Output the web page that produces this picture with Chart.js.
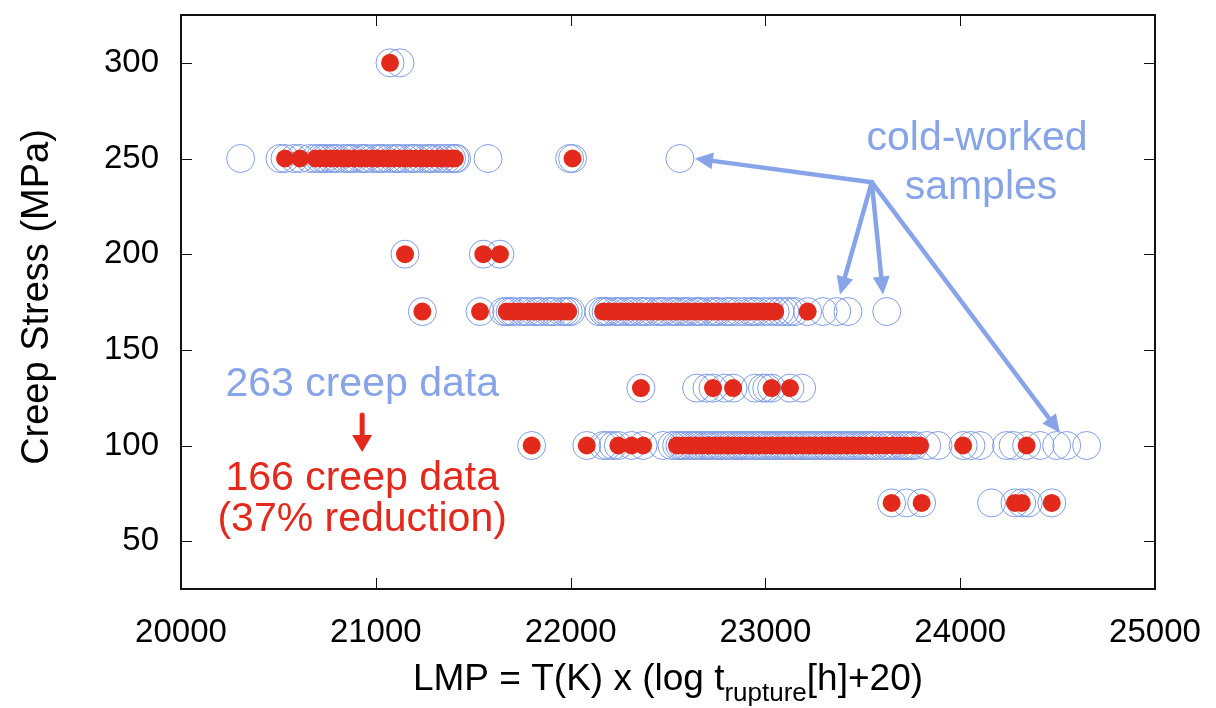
<!DOCTYPE html>
<html>
<head>
<meta charset="utf-8">
<script src="https://cdn.jsdelivr.net/npm/chart.js@4.4.1/dist/chart.umd.min.js"></script>
<style>
  html, body { margin: 0; padding: 0; background: #fff; }
  #c { display: block; }
</style>
</head>
<body>
<canvas id="c" width="1216" height="708"></canvas>
<script>
// stress levels (MPa) and LMP values
var stressLevels = [300, 250, 200, 170, 130, 100, 70];
var yTicks = [50, 100, 150, 200, 250, 300];

// all 263 data (open blue rings)
var blue300 = [21073, 21124];
var blue250 = [20306, 20508, 20534, 20580, 20611, 20660, 20690, 20712, 20731, 20745, 20770, 20788, 20801, 20836,
    20858, 20872, 20889, 20921, 20937, 20950, 20984, 21010, 21025, 21037, 21066, 21095, 21108, 21121, 21150,
    21178, 21192, 21204, 21233, 21262, 21277, 21290, 21318, 21341, 21367, 21389, 21406, 21415, 21576, 21995,
    22010, 22561];
var blue200 = [21150, 21552, 21637];
var blue170 = [21239, 21535, 21655, 21672, 21690, 21705, 21741, 21760, 21780, 21812, 21830, 21846, 21880, 21898,
    21915, 21951, 21970, 21988, 22002, 22145, 22167, 22182, 22196, 22228, 22245, 22262, 22290, 22308, 22323,
    22355, 22372, 22391, 22420, 22448, 22465, 22480, 22514, 22530, 22545, 22574, 22590, 22606, 22637, 22652,
    22668, 22700, 22729, 22745, 22760, 22795, 22812, 22830, 22862, 22896, 22925, 22940, 22958, 22990, 23022,
    23050, 23075, 23100, 23125, 23152, 23217, 23296, 23366, 23424, 23623];
var blue130 = [22361, 22647, 22700, 22731, 22790, 22834, 22947, 22985, 23007, 23032, 23126, 23186];
var blue100 = [21800, 22083, 22167, 22190, 22218, 22245, 22313, 22372, 22474, 22520, 22544, 22561, 22575, 22590,
    22610, 22629, 22643, 22658, 22676, 22694, 22708, 22722, 22740, 22757, 22772, 22791, 22806, 22820, 22839,
    22856, 22870, 22887, 22902, 22917, 22935, 22952, 22968, 22983, 23000, 23017, 23031, 23046, 23063, 23080,
    23095, 23110, 23128, 23145, 23160, 23175, 23192, 23209, 23225, 23240, 23257, 23274, 23290, 23305, 23322,
    23339, 23355, 23370, 23388, 23405, 23420, 23435, 23452, 23469, 23485, 23500, 23517, 23532, 23548, 23566,
    23600, 23621, 23640, 23659, 23680, 23701, 23715, 23730, 23747, 23765, 23828, 23886, 24015, 24055, 24102,
    24238, 24272, 24341, 24410, 24495, 24547, 24649];
var blue70 = [23648, 23725, 23802, 24161, 24281, 24316, 24350, 24470];

// 166 retained data (filled red)
var red300 = [21073];
var red250 = [20534, 20611, 20690, 20712, 20745, 20770, 20801, 20836, 20858, 20889, 20921, 20950, 20984, 21010,
    21037, 21066, 21095, 21121, 21150, 21178, 21204, 21233, 21262, 21290, 21318, 21341, 21367, 21389, 21406,
    22010];
var red200 = [21150, 21552, 21637];
var red170 = [21239, 21535, 21672, 21705, 21741, 21780, 21812, 21846, 21880, 21915, 21951, 21988, 22167, 22196,
    22228, 22262, 22290, 22323, 22355, 22391, 22420, 22448, 22480, 22514, 22545, 22574, 22606, 22637, 22668,
    22700, 22729, 22760, 22795, 22830, 22862, 22896, 22925, 22958, 22990, 23022, 23050, 23217];
var red130 = [22361, 22731, 22834, 23032, 23126];
var red100 = [21800, 22083, 22245, 22313, 22372, 22546, 22575, 22610, 22643, 22676, 22708, 22740, 22772, 22806,
    22839, 22870, 22902, 22935, 22968, 23000, 23031, 23063, 23095, 23128, 23160, 23192, 23225, 23257, 23290,
    23322, 23355, 23388, 23420, 23452, 23485, 23517, 23550, 23585, 23620, 23655, 23690, 23722, 23760, 23794,
    24015, 24341];
var red70 = [23648, 23802, 24281, 24316, 24470];

var blueRows = [blue300, blue250, blue200, blue170, blue130, blue100, blue70];
var redRows = [red300, red250, red200, red170, red130, red100, red70];

var BLUE = '#87a4e8';
var RING = '#7f9de6';
var RED = '#e3291b';
var FONT = "'Liberation Sans', Arial, Helvetica, sans-serif";

function toPoints(rows) {
    var pts = [];
    rows.forEach(function (xs, i) {
        xs.forEach(function (x) {
            pts.push({ x: x, y: stressLevels[i] });
        });
    });
    return pts;
}

function arrow(ctx, x1, y1, x2, y2, color, lw, headLen, headW) {
    var ang = Math.atan2(y2 - y1, x2 - x1);
    var bx = x2 - headLen * Math.cos(ang);
    var by = y2 - headLen * Math.sin(ang);
    ctx.save();
    ctx.strokeStyle = color;
    ctx.fillStyle = color;
    ctx.lineWidth = lw;
    ctx.lineCap = 'round';
    ctx.beginPath();
    ctx.moveTo(x1, y1);
    ctx.lineTo(bx, by);
    ctx.stroke();
    ctx.beginPath();
    ctx.moveTo(x2, y2);
    ctx.lineTo(bx + headW / 2 * Math.sin(ang), by - headW / 2 * Math.cos(ang));
    ctx.lineTo(bx - headW / 2 * Math.sin(ang), by + headW / 2 * Math.cos(ang));
    ctx.closePath();
    ctx.fill();
    ctx.restore();
}

// frame with inward ticks on all four sides, gnuplot style
var framePlugin = {
    id: 'frame',
    afterDraw: function (chart) {
        var ctx = chart.ctx;
        var a = chart.chartArea;
        var xs = chart.scales.x, ys = chart.scales.y;
        var tl = 11;
        ctx.save();
        ctx.strokeStyle = '#111';
        ctx.lineWidth = 1;
        xs.ticks.forEach(function (t) {
            var px = Math.round(xs.getPixelForValue(t.value)) + 0.5;
            ctx.beginPath();
            ctx.moveTo(px, a.bottom); ctx.lineTo(px, a.bottom - tl);
            ctx.moveTo(px, a.top); ctx.lineTo(px, a.top + tl);
            ctx.stroke();
        });
        ys.ticks.forEach(function (t) {
            var py = Math.round(ys.getPixelForValue(t.value)) + 0.5;
            ctx.beginPath();
            ctx.moveTo(a.left, py); ctx.lineTo(a.left + tl, py);
            ctx.moveTo(a.right, py); ctx.lineTo(a.right - tl, py);
            ctx.stroke();
        });
        ctx.lineWidth = 2;
        ctx.strokeRect(a.left, a.top, a.right - a.left, a.bottom - a.top);

        // axis titles
        ctx.fillStyle = '#000';
        ctx.font = '38px ' + FONT;
        ctx.save();
        ctx.translate(48, (a.top + a.bottom) / 2 - 5);
        ctx.rotate(-Math.PI / 2);
        ctx.textAlign = 'center';
        ctx.textBaseline = 'alphabetic';
        ctx.fillText('Creep Stress (MPa)', 0, 0);
        ctx.restore();

        var p1 = 'LMP = T(K) x (log t', sub = 'rupture', p2 = '[h]+20)';
        ctx.font = '37px ' + FONT;
        var w1 = ctx.measureText(p1).width, w3 = ctx.measureText(p2).width;
        ctx.font = '26px ' + FONT;
        var w2 = ctx.measureText(sub).width;
        var x0 = 668 - (w1 + w2 + w3) / 2;
        ctx.textAlign = 'left';
        ctx.font = '37px ' + FONT;
        ctx.fillText(p1, x0, 690);
        ctx.fillText(p2, x0 + w1 + w2, 690);
        ctx.font = '26px ' + FONT;
        ctx.fillText(sub, x0 + w1, 701);
        ctx.restore();
    }
};

// text and arrows laid over the data
var notesPlugin = {
    id: 'notes',
    afterDatasetsDraw: function (chart) {
        var ctx = chart.ctx;
        var xs = chart.scales.x, ys = chart.scales.y;
        function P(x, y) { return [xs.getPixelForValue(x), ys.getPixelForValue(y)]; }
        ctx.save();
        ctx.font = '41px ' + FONT;
        ctx.textAlign = 'center';
        ctx.textBaseline = 'alphabetic';

        var c = P(20930, 132);
        ctx.fillStyle = BLUE;
        ctx.fillText('263 creep data', c[0], 396);
        ctx.fillStyle = RED;
        ctx.fillText('166 creep data', c[0], 490);
        ctx.fillText('(37% reduction)', c[0], 531);
        arrow(ctx, c[0], 415, c[0], 452, RED, 5, 17, 20);

        ctx.fillStyle = BLUE;
        ctx.fillText('cold-worked', 977, 150);
        ctx.fillText('samples', 981, 199);

        var hub = P(23546, 237.6);
        [[22638, 250], [23383, 178.9], [23604, 178.9], [24512, 106.7]].forEach(function (t) {
            var e = P(t[0], t[1]);
            arrow(ctx, hub[0], hub[1], e[0], e[1], BLUE, 4.5, 18, 17);
        });
        ctx.restore();
    }
};

new Chart(document.getElementById('c'), {
    type: 'scatter',
    data: {
        datasets: [{
            label: '166 creep data',
            data: toPoints(redRows),
            pointRadius: 9,
            pointBackgroundColor: RED,
            pointBorderWidth: 0,
            pointBorderColor: RED,
            order: 0
        }, {
            label: '263 creep data',
            data: toPoints(blueRows),
            pointRadius: 14,
            pointBackgroundColor: 'rgba(0,0,0,0)',
            pointBorderColor: RING,
            pointBorderWidth: 1,
            order: 1
        }]
    },
    options: {
        responsive: false,
        animation: false,
        events: [],
        layout: { padding: { top: 12, right: 61, left: 0, bottom: 0 } },
        plugins: { legend: { display: false }, tooltip: { enabled: false } },
        scales: {
            x: {
                type: 'linear',
                min: 20000,
                max: 25000,
                grid: { display: false, drawTicks: false },
                border: { display: false },
                ticks: {
                    stepSize: 1000,
                    padding: 24,
                    color: '#000',
                    maxRotation: 0,
                    font: { family: FONT, size: 33 },
                    callback: function (v) { return String(v); }
                },
                afterFit: function (s) {
                    s.height = 119;
                    s.paddingLeft = 0; s.paddingRight = 0;
                }
            },
            y: {
                type: 'linear',
                min: 25,
                max: 325,
                grid: { display: false, drawTicks: false },
                border: { display: false },
                afterBuildTicks: function (s) {
                    s.ticks = yTicks.map(function (v) { return { value: v }; });
                },
                ticks: {
                    padding: 22,
                    color: '#000',
                    font: { family: FONT, size: 33 }
                },
                afterFit: function (s) {
                    s.width = 181;
                    s.paddingTop = 0; s.paddingBottom = 0;
                }
            }
        }
    },
    plugins: [framePlugin, notesPlugin]
});
</script>
</body>
</html>
